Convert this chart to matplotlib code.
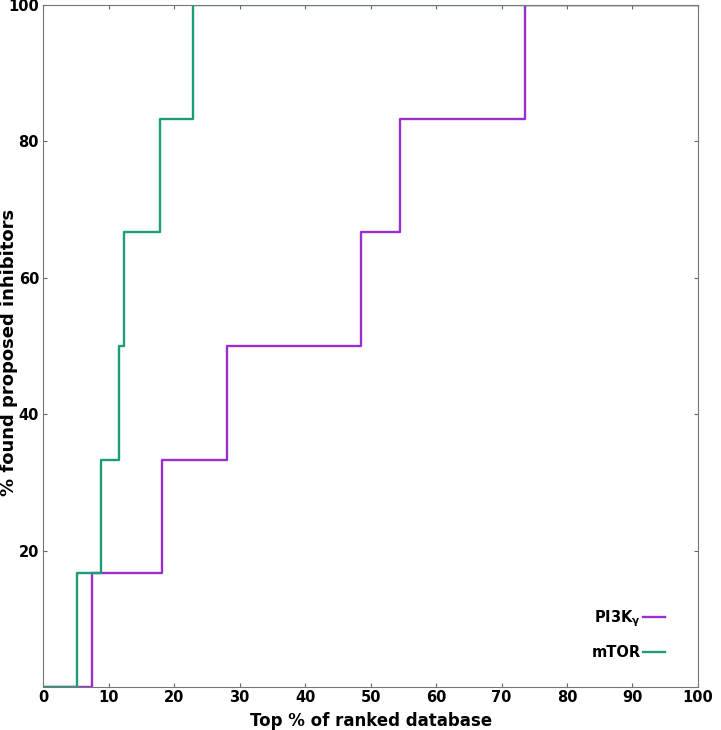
import matplotlib
matplotlib.use("Agg")
import matplotlib.pyplot as plt
import numpy as np

# Step curves: x = top % of ranked database, y = % found proposed inhibitors
pi3k_x = [0, 7.5, 18.2, 28.1, 48.5, 54.5, 73.6, 100]
pi3k_y = [0, 16.67, 33.33, 50.0, 66.67, 83.33, 100, 100]

mtor_x = [0, 5.1, 8.8, 11.5, 12.4, 17.9, 22.9, 100]
mtor_y = [0, 16.67, 33.33, 50.0, 66.67, 83.33, 100, 100]

xticks = [0, 10, 20, 30, 40, 50, 60, 70, 80, 90, 100]
yticks = [20, 40, 60, 80, 100]

fig = plt.figure(figsize=(7.21, 7.30), dpi=100)
ax = fig.add_axes([0.06, 0.059, 0.908, 0.934])

ax.plot(pi3k_x, pi3k_y, drawstyle="steps-post", color="#9a2fd0", linewidth=1.7,
        label=r"PI3K$_\mathbf{\gamma}$")
ax.plot(mtor_x, mtor_y, drawstyle="steps-post", color="#1b9e77", linewidth=1.7,
        label="mTOR")

ax.set_xlim(0, 100)
ax.set_ylim(0, 100)
ax.set_xticks(xticks)
ax.set_yticks(yticks)
ax.tick_params(direction="in", top=True, right=True, length=3, color="#666666",
               labelsize=10.5)
ax.tick_params(axis="x", pad=2.5)
ax.tick_params(axis="y", pad=3)
for lab in ax.get_xticklabels() + ax.get_yticklabels():
    lab.set_fontweight("bold")
for sp in ax.spines.values():
    sp.set_color("#777777")

ax.set_xlabel("Top % of ranked database", fontsize=12, fontweight="bold")
ax.set_ylabel("% found proposed inhibitors", fontsize=13, fontweight="bold")
# place labels tight to the figure edge like the original
ax.xaxis.set_label_coords(0.5, -0.058)
ax.xaxis.label.set_verticalalignment("baseline")
ax.yaxis.set_label_coords(-0.044, 0.49)
ax.yaxis.label.set_rotation_mode("anchor")
ax.yaxis.label.set_verticalalignment("baseline")

leg = ax.legend(loc="lower right", bbox_to_anchor=(0.991, 0.0), frameon=False,
                markerfirst=False, prop={"weight": "bold", "size": 10.5},
                handlelength=1.5, handletextpad=0.15, labelspacing=1.1,
                borderaxespad=1.45)

fig.savefig("out.png", dpi=100)
